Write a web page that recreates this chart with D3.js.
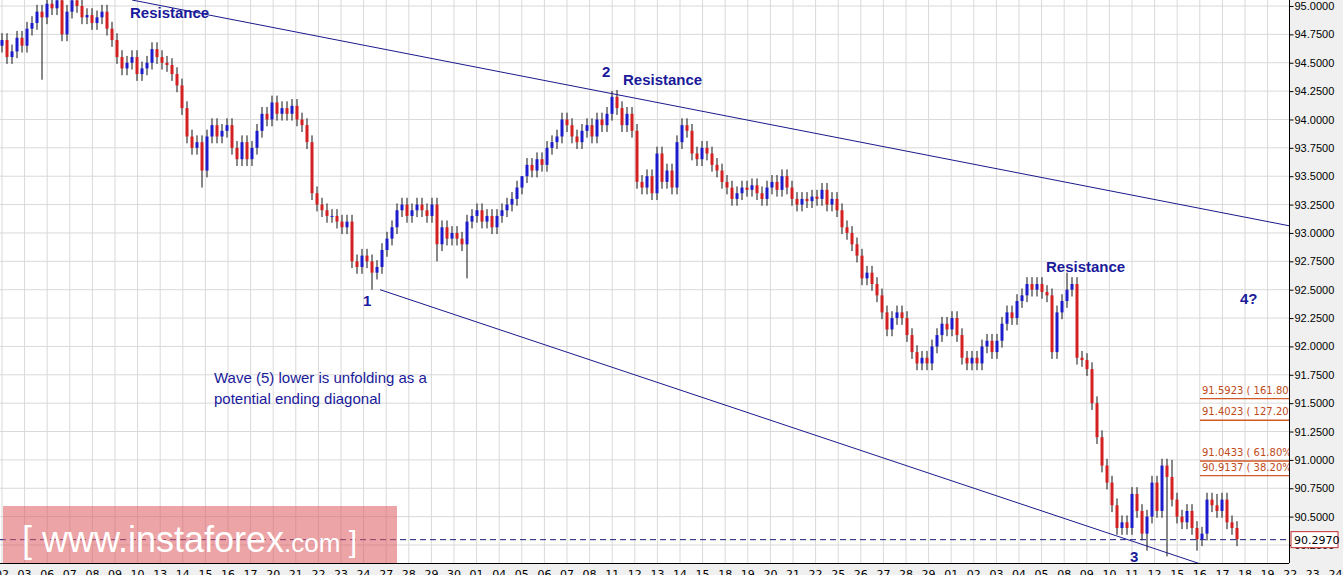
<!DOCTYPE html>
<html><head><meta charset="utf-8">
<script src="https://cdn.jsdelivr.net/npm/d3@7"></script>
<style>body{margin:0;background:#f0f0f0;overflow:hidden}svg{display:block;font-family:Tahoma,"DejaVu Sans",sans-serif}</style>
</head><body><svg id="c" width="1343" height="575"></svg>
<script>
const closes=[94.70,94.55,94.60,94.72,94.65,94.80,94.85,94.95,94.90,95.02,94.98,95.05,
94.75,94.95,95.05,95.00,94.90,94.92,94.85,94.90,94.95,94.80,94.70,94.55,
94.45,94.50,94.55,94.40,94.45,94.50,94.62,94.55,94.50,94.48,94.40,94.30,
94.10,93.85,93.75,93.80,93.55,93.85,93.95,93.85,93.90,93.95,93.75,93.65,
93.80,93.65,93.75,93.90,94.05,94.00,94.15,94.05,94.10,94.05,94.12,94.00,
93.95,93.80,93.35,93.25,93.20,93.15,93.15,93.10,93.05,93.10,92.75,92.70,
92.80,92.75,92.65,92.70,92.85,92.95,93.05,93.20,93.25,93.15,93.20,93.25,
93.20,93.15,93.25,92.90,93.05,92.95,93.00,92.95,92.90,93.10,93.15,93.20,
93.10,93.15,93.05,93.15,93.20,93.25,93.30,93.40,93.50,93.60,93.55,93.65,
93.60,93.75,93.80,93.85,94.00,93.95,93.85,93.80,93.90,93.95,93.85,94.00,
93.95,94.05,94.20,94.10,93.95,94.05,93.90,93.45,93.40,93.50,93.35,93.70,
93.45,93.55,93.40,93.80,93.95,93.90,93.70,93.65,93.75,93.70,93.60,93.55,
93.45,93.40,93.30,93.35,93.40,93.38,93.42,93.35,93.30,93.40,93.45,93.38,
93.50,93.40,93.30,93.25,93.30,93.28,93.32,93.30,93.38,93.25,93.30,93.20,
93.05,93.00,92.90,92.80,92.60,92.65,92.55,92.45,92.30,92.15,92.25,92.30,
92.25,92.10,91.95,91.85,91.90,91.85,92.00,92.10,92.20,92.15,92.25,92.10,
91.90,91.85,91.90,91.85,92.00,92.05,91.95,92.05,92.20,92.30,92.25,92.40,
92.45,92.55,92.50,92.55,92.48,92.45,91.95,92.30,92.40,92.50,92.55,91.90,
91.88,91.80,91.50,91.20,90.95,90.80,90.60,90.40,90.45,90.40,90.70,90.55,
90.35,90.50,90.80,90.55,90.95,90.85,90.65,90.50,90.45,90.55,90.40,90.30,
90.35,90.65,90.60,90.55,90.65,90.45,90.40,90.30];
const firstOpen=94.65;
const wickSize=0.06;
const longWicks=[{i:8,lo:94.35},{i:40,lo:93.40},{i:74,lo:92.50},{i:87,lo:92.75},{i:93,lo:92.60},{i:104,hi:93.50},{i:122,hi:94.25},{i:213,hi:92.65},{i:229,lo:90.20},{i:233,lo:90.15},{i:234,hi:91.00},{i:239,lo:90.20},{i:243,hi:90.70}];
const yTicks=d3.range(0,20).map(k=>95-k*0.25);
const dayLabels=["02","03","06","07","08","09","10","13","14","15","16","17","20","21","22","23","24","27","28","29","30","01","04","05","06","07","08","11","12","13","14","15","18","19","20","21","22","25","26","27","28","29","01","02","03","04","05","08","09","10","11","12","15","16","17","18","19","22","23","24"];
const resistance=[{i:26,p:95.053},{i:257.8,p:93.06}];
const support=[{i:75.6,p:92.50},{i:246,p:89.99}];
const fibs=[{p:91.5923,t:"91.5923 ( 161.80%"},{p:91.4023,t:"91.4023 ( 127.20%"},{p:91.0433,t:"91.0433 ( 61.80%"},{p:90.9137,t:"90.9137 ( 38.20%"}];
const lastPrice=90.2970;
const notes=[{x:130,y:18,t:"Resistance"},{x:602,y:77,t:"2"},{x:623,y:85,t:"Resistance"},{x:363,y:306,t:"1"},{x:1046,y:272,t:"Resistance"},{x:1240,y:304,t:"4?"},{x:1130,y:562,t:"3"}];

const W=1289,H=563;
const svg=d3.select("#c");
const x=d3.scaleLinear().domain([0,1]).range([2,7]);
const y=d3.scaleLinear().domain([95,90.25]).range([6,545]);
const defs=svg.append("defs");
defs.append("clipPath").attr("id","pc").append("rect").attr("width",W).attr("height",H);
svg.append("rect").attr("width",W).attr("height",H).attr("fill","#fff");
const g=svg.append("g").attr("clip-path","url(#pc)");
g.selectAll(".hg").data(yTicks).join("line").attr("x1",0).attr("x2",W).attr("y1",d=>y(d)).attr("y2",d=>y(d)).attr("stroke","#d9d9d9");
const xg=dayLabels.map((d,k)=>2+22.6*k);
g.selectAll(".vg").data(xg).join("line").attr("x1",d=>d).attr("x2",d=>d).attr("y1",0).attr("y2",H).attr("stroke","#d9d9d9");
const cs=closes.map((c,i)=>{const o=i?closes[i-1]:firstOpen;let hi=Math.max(o,c)+wickSize,lo=Math.min(o,c)-wickSize;
 const lw=longWicks.find(w=>w.i===i);if(lw){if(lw.hi)hi=lw.hi;if(lw.lo)lo=lw.lo;}return{i,o,c,hi,lo};});
g.selectAll(".wk").data(cs).join("line").attr("x1",d=>x(d.i)).attr("x2",d=>x(d.i)).attr("y1",d=>y(d.hi)).attr("y2",d=>y(d.lo)).attr("stroke","#111").attr("stroke-width",1);
g.selectAll(".bd").data(cs).join("rect").attr("x",d=>x(d.i)-1.5).attr("width",3)
 .attr("y",d=>y(Math.max(d.o,d.c))).attr("height",d=>Math.max(1,Math.abs(y(d.o)-y(d.c))))
 .attr("fill",d=>d.c>=d.o?"#1c1ccc":"#d42020");
const ln=d3.line().x(d=>x(d.i)).y(d=>y(d.p));
[resistance,support].forEach(l=>g.append("path").attr("d",ln(l)).attr("stroke","#1a1a8c").attr("fill","none").attr("stroke-width",1));
fibs.forEach(f=>{g.append("line").attr("x1",1200).attr("x2",W).attr("y1",y(f.p)+6).attr("y2",y(f.p)+6).attr("stroke","#d05a28").attr("stroke-width",1.3);
 g.append("text").attr("x",1202).attr("y",y(f.p)+1).attr("font-size",10).attr("fill","#c04a1a").text(f.t);});
g.append("line").attr("x1",0).attr("x2",W).attr("y1",y(lastPrice)).attr("y2",y(lastPrice)).attr("stroke","#1a1a7c").attr("stroke-dasharray","6,4");
svg.append("rect").attr("x",3).attr("y",506).attr("width",394).attr("height",57).attr("fill","rgba(220,90,95,0.55)");
const wm=svg.append("text").attr("x",22).attr("y",552).attr("fill","#fff").attr("font-family","Arial,Liberation Sans,sans-serif").attr("font-size",36);
wm.append("tspan").text("[ www.instaforex");wm.append("tspan").attr("font-size",26).text(".com");wm.append("tspan").attr("font-size",30).text(" ]");
notes.forEach(n=>svg.append("text").attr("x",n.x).attr("y",n.y).attr("font-size",15).attr("font-weight","bold").attr("fill","#1a1a9a").attr("font-family","Arial,Liberation Sans,sans-serif").text(n.t));
svg.append("text").attr("x",214).attr("y",383).attr("font-size",15).attr("fill","#1a1a9a").attr("font-family","Arial,Liberation Sans,sans-serif").text("Wave (5) lower is unfolding as a");
svg.append("text").attr("x",214).attr("y",404).attr("font-size",15).attr("fill","#1a1a9a").attr("font-family","Arial,Liberation Sans,sans-serif").text("potential ending diagonal");
svg.append("line").attr("x1",W+0.5).attr("x2",W+0.5).attr("y1",0).attr("y2",H).attr("stroke","#000");
svg.append("line").attr("x1",0).attr("x2",W).attr("y1",H+0.5).attr("y2",H+0.5).attr("stroke","#000");
const ya=svg.append("g").attr("transform",`translate(${W+0.5},0)`).call(d3.axisRight(y).tickValues(yTicks).tickSize(4).tickFormat(d3.format(".4f")));
ya.select(".domain").remove();ya.selectAll("text").attr("font-size",11).attr("fill","#000").attr("x",5);
svg.append("rect").attr("x",1291).attr("y",y(lastPrice)-8).attr("width",47).attr("height",16).attr("fill","#fff").attr("stroke","#c03030");
svg.append("text").attr("x",1294).attr("y",y(lastPrice)+4).attr("font-size",11).text("90.2970");
svg.selectAll(".xl").data(dayLabels).join("text").attr("x",(d,k)=>xg[k]).attr("y",578).attr("text-anchor","middle").attr("font-size",11).text(d=>d);
</script></body></html>
